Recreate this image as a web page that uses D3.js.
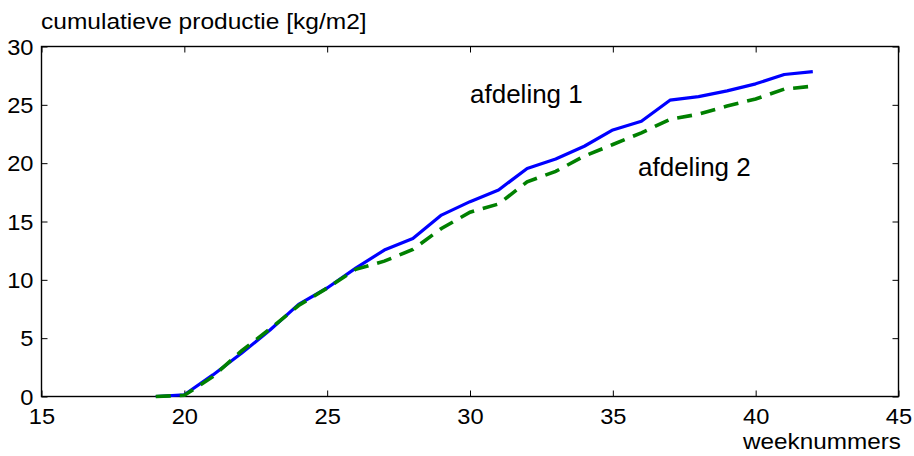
<!DOCTYPE html>
<html><head><meta charset="utf-8">
<script src="https://cdn.jsdelivr.net/npm/d3@7"></script>
<style>
html,body{margin:0;padding:0;background:#fff;}
text{font-family:"Liberation Sans",Arial,sans-serif;fill:#000;}
</style></head>
<body><svg id="c" width="914" height="456"></svg>
<script>
const weeks = [19,20,21,22,23,24,25,26,27,28,29,30,31,32,33,34,35,36,37,38,39,40,41,42];
const afdeling1 = [0,0.15,1.85,3.7,5.7,7.9,9.3,11.0,12.55,13.55,15.55,16.7,17.7,19.55,20.35,21.45,22.85,23.6,25.4,25.7,26.2,26.8,27.6,27.85];
const afdeling2 = [0,0.1,1.7,3.9,5.8,7.8,9.3,10.9,11.6,12.6,14.4,15.8,16.5,18.4,19.3,20.6,21.6,22.6,23.75,24.2,24.9,25.5,26.35,26.6];
const xTicks = [15,20,25,30,35,40,45];
const yTicks = [0,5,10,15,20,25,30];
const title = "cumulatieve productie [kg/m2]";
const xLabel = "weeknummers";
const seriesLabels = ["afdeling 1","afdeling 2"];

const svg = d3.select("#c");
const L=41.5, R=898.5, T=46.5, B=396.5;
const x = d3.scaleLinear().domain([15,45]).range([L,R]);
const y = d3.scaleLinear().domain([0,30]).range([B,T]);
const fs = 21.5;

function widen(sel, k){
  sel.each(function(){
    const w = this.getComputedTextLength();
    d3.select(this).attr("textLength", w*k).attr("lengthAdjust","spacingAndGlyphs");
  });
}

const tl = 6;
const gB = svg.append("g").attr("transform",`translate(0,${B})`)
  .call(d3.axisBottom(x).tickValues(xTicks).tickSize(-tl).tickSizeOuter(0));
const gT = svg.append("g").attr("transform",`translate(0,${T})`)
  .call(d3.axisTop(x).tickValues(xTicks).tickSize(-tl).tickFormat("").tickSizeOuter(0));
const gL = svg.append("g").attr("transform",`translate(${L},0)`)
  .call(d3.axisLeft(y).tickValues(yTicks).tickSize(-tl).tickSizeOuter(0));
const gR = svg.append("g").attr("transform",`translate(${R},0)`)
  .call(d3.axisRight(y).tickValues(yTicks).tickSize(-tl).tickFormat("").tickSizeOuter(0));
[gB,gT,gL,gR].forEach(g=>{
  g.selectAll(".domain").remove();
  g.selectAll(".tick line").attr("stroke","#000").attr("stroke-width",1);
  g.selectAll(".tick text").attr("font-size",fs).attr("font-family","Liberation Sans, Arial, sans-serif").attr("fill","#000");
});
gB.selectAll(".tick text").attr("y",27).attr("dy",null);
gL.selectAll(".tick text").attr("x",-8).attr("dy","0.36em");
widen(gB.selectAll(".tick text"), 1.1);
widen(gL.selectAll(".tick text"), 1.1);

svg.append("rect").attr("x",L).attr("y",T).attr("width",R-L).attr("height",B-T)
  .attr("fill","none").attr("stroke","#000").attr("stroke-width",1.4);

const line = d3.line().x((d,i)=>x(weeks[i])).y(d=>y(d));
svg.append("path").datum(afdeling1).attr("d",line)
  .attr("fill","none").attr("stroke","#0000ff").attr("stroke-width",3.2).attr("stroke-linejoin","round");
svg.append("path").datum(afdeling2).attr("d",line)
  .attr("fill","none").attr("stroke","#008000").attr("stroke-width",3.6).attr("stroke-dasharray","15,9");

widen(svg.append("text").attr("x",41).attr("y",28.5).attr("font-size",fs).text(title), 1.14);
widen(svg.append("text").attr("x",901).attr("y",449.3).attr("text-anchor","end").attr("font-size",fs).text(xLabel), 1.13);
svg.append("text").attr("x",470).attr("y",103.3).attr("font-size",26).text(seriesLabels[0]);
svg.append("text").attr("x",638).attr("y",176).attr("font-size",26).text(seriesLabels[1]);
</script></body></html>
